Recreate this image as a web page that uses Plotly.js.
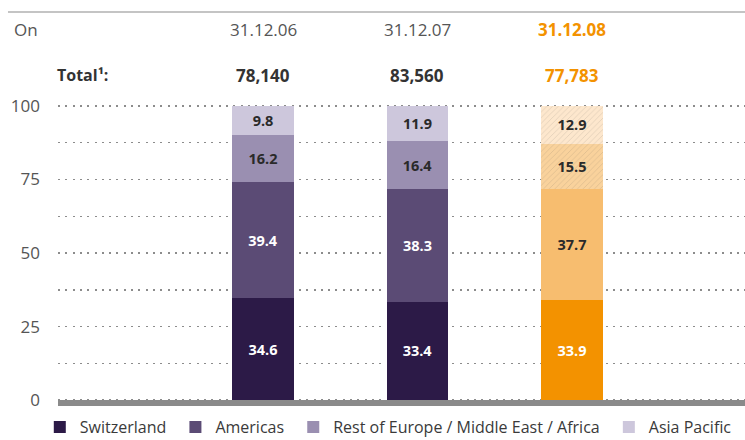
<!DOCTYPE html>
<html>
<head>
<meta charset="utf-8">
<script src="https://cdn.plot.ly/plotly-3.0.1.min.js"></script>
<style>html,body{margin:0;padding:0;background:#fff;}#chart{width:745px;height:440px;}</style>
</head>
<body>
<div id="chart"></div>
<script>
// ---- data ----
var categories = ['31.12.06', '31.12.07', '31.12.08'];
var totals = ['78,140', '83,560', '77,783'];
var seriesNames = ['Switzerland', 'Americas', 'Rest of Europe / Middle East / Africa', 'Asia Pacific'];
var switzerland = [34.6, 33.4, 33.9];
var americas = [39.4, 38.3, 37.7];
var restEMEA = [16.2, 16.4, 15.5];
var asiaPacific = [9.8, 11.9, 12.9];
var yTickVals = [0, 12.5, 25, 37.5, 50, 62.5, 75, 87.5, 100];
var yTickText = ['0', '', '25', '', '50', '', '75', '', '100'];

// ---- styles ----
var FONT = 'Open Sans, sans-serif';
var ORANGE = '#f39200';
var seriesColors = [
  ['#2c1a47', '#2c1a47', '#f39200'],
  ['#5b4b75', '#5b4b75', '#f7bd6f'],
  ['#9a8fb1', '#9a8fb1', '#f9d29c'],
  ['#cdc7dc', '#cdc7dc', '#fde7cd']
];
var legendColors = ['#2c1a47', '#5b4b75', '#9a8fb1', '#cdc7dc'];
var textColors = [
  ['#ffffff', '#ffffff', '#ffffff'],
  ['#ffffff', '#ffffff', '#2a2a2a'],
  ['#2a2a2a', '#2a2a2a', '#2a2a2a'],
  ['#2a2a2a', '#2a2a2a', '#2a2a2a']
];
var patternShapes = [
  ['', '', ''],
  ['', '', ''],
  ['', '', '/'],
  ['', '', '/']
];
var values = [switzerland, americas, restEMEA, asiaPacific];

var traces = values.map(function (v, i) {
  return {
    type: 'bar',
    // trailing no-break space widens the gap between legend entries
    name: seriesNames[i] + '\u00a0',
    x: categories,
    y: v,
    text: v.map(function (d) { return d.toFixed(1); }),
    textposition: 'inside',
    insidetextanchor: 'middle',
    textangle: 0,
    constraintext: 'none',
    textfont: { family: FONT, size: 14.5, weight: 'bold', color: textColors[i] },
    marker: {
      color: seriesColors[i],
      line: { width: 0 },
      pattern: { shape: patternShapes[i], fillmode: 'overlay', fgcolor: '#e9a24c', fgopacity: 0.15, size: 4, solidity: 0.2 }
    },
    hoverinfo: 'none'
  };
});

var annotations = [];
annotations.push({
  xref: 'paper', yref: 'paper', x: -0.067, y: 1.241, xanchor: 'left', yanchor: 'middle',
  text: 'On', showarrow: false, font: { family: FONT, size: 17, color: '#555' }
});
annotations.push({
  xref: 'paper', yref: 'paper', x: 0.0757, y: 1.092, xanchor: 'right', yanchor: 'middle',
  text: 'Total¹:', showarrow: false, font: { family: FONT, size: 16, weight: 'bold', color: '#333' }
});
categories.forEach(function (c, i) {
  var last = i === categories.length - 1;
  annotations.push({
    xref: 'x', yref: 'paper', x: c, y: 1.241, xanchor: 'center', yanchor: 'middle',
    text: c, showarrow: false,
    font: { family: FONT, size: 17, weight: last ? 'bold' : 'normal', color: last ? ORANGE : '#555' }
  });
  annotations.push({
    xref: 'x', yref: 'paper', x: c, y: 1.092, xanchor: 'center', yanchor: 'middle',
    text: totals[i], showarrow: false,
    font: { family: FONT, size: 17, weight: 'bold', color: last ? ORANGE : '#333' }
  });
});

var layout = {
  width: 745, height: 440,
  margin: { l: 58, r: 0, t: 103, b: 34, autoexpand: false },
  paper_bgcolor: '#ffffff', plot_bgcolor: '#ffffff',
  barmode: 'stack',
  bargap: 0.6,
  showlegend: true,
  legend: {
    orientation: 'h', traceorder: 'normal',
    x: -0.0265, xanchor: 'left', y: -0.0693, yanchor: 'middle',
    bgcolor: 'rgba(0,0,0,0)',
    font: { family: FONT, size: 16, color: '#3a3a3a' },
    itemclick: false, itemdoubleclick: false
  },
  xaxis: {
    type: 'category', range: [-1.327, 3.12],
    showticklabels: false, showgrid: false, zeroline: false, showline: false, ticks: ''
  },
  yaxis: {
    range: [-2, 101], tickmode: 'array', tickvals: yTickVals, ticktext: yTickText,
    showgrid: true, gridcolor: '#8c8c8c', gridwidth: 1.5, griddash: '2px,5.3px',
    zeroline: false, showline: false, ticks: '', ticklabelstandoff: 17,
    tickfont: { family: FONT, size: 17, color: '#555' }
  },
  shapes: [
    { type: 'rect', xref: 'paper', yref: 'y', x0: 0, x1: 1, y0: -2, y1: 0,
      fillcolor: '#8a8a8a', line: { width: 0 }, layer: 'above' },
    { type: 'line', xref: 'paper', yref: 'paper', x0: -0.0728, x1: 1, y0: 1.300, y1: 1.300,
      line: { color: '#c4c4c4', width: 2 } }
  ],
  annotations: annotations
};

Plotly.newPlot('chart', traces, layout, { displayModeBar: false, staticPlot: true }).then(function () {
  var pts = document.querySelectorAll('.legend .traces .legendpoints path');
  pts.forEach(function (p, i) {
    if (legendColors[i]) { p.style.fill = legendColors[i]; p.style.stroke = 'none'; }
  });
});
</script>
</body>
</html>
